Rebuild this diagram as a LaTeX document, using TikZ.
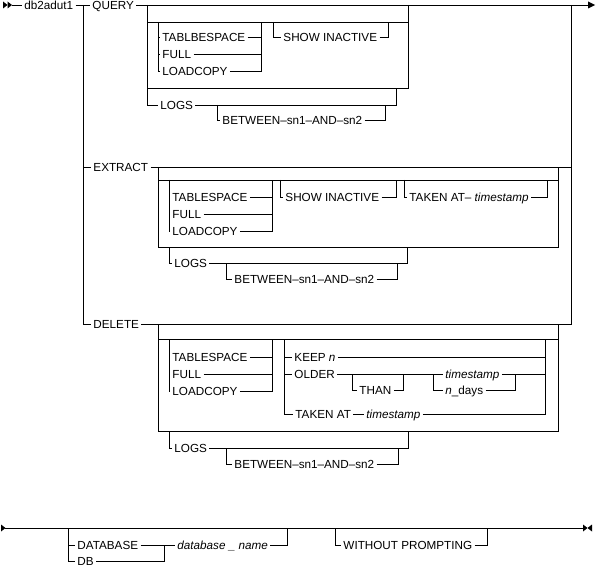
\documentclass[tikz,border=0pt]{standalone}
\usepackage{fontspec}
\setmainfont{Liberation Sans}
\begin{document}
\begin{tikzpicture}[x=1pt,y=-1pt,line width=0.9pt,
  t/.style={anchor=west,inner xsep=2pt,inner ysep=0pt,text height=8.4pt,text depth=0pt,font=\fontsize{11.7}{13}\selectfont},
  tip/.style={fill=black,draw=none}]
\useasboundingbox (0,0) rectangle (596,569);
% ---------- head ----------
\fill[tip] (3,1.5) -- (7.5,5) -- (3,8.5) -- cycle;
\fill[tip] (7.5,1.5) -- (12,5) -- (7.5,8.5) -- cycle;
\node[t] (db) at (22,5) {db2adut1};
\node[t] (qy) at (90,5) {QUERY};
\node[t] (ex) at (91,167) {EXTRACT};
\node[t] (del) at (91,324) {DELETE};
\coordinate (e1) at (588,5);
\draw (12,5) -- (db.west);
\draw (db.east) -- (qy.west);
\draw (qy.east) -- (e1);
\fill[tip] (588,1.5) -- (595,5) -- (588,8.5) -- cycle;
\draw (83,5) -- (83,324) -- (del.west);
\draw (83,167) -- (ex.west);
\draw (571,5) -- (571,324) -- (del.east);
\draw (ex.east) -- (571,167);
% ---------- QUERY ----------
\draw (147,5) -- (147,105);
\draw (147,22) -- (408,22);
\draw (408,5) -- (408,88) -- (147,88);
\node[t] (tb1) at (160,37) {TABLBESPACE};
\node[t] (fu1) at (160,54) {FULL};
\node[t] (lc1) at (160,71) {LOADCOPY};
\draw (158,22) -- (158,71) -- (lc1.west);
\draw (158,37) -- (tb1.west); \draw (158,54) -- (fu1.west);
\draw (tb1.east) -- (261,37); \draw (fu1.east) -- (261,54);
\draw (lc1.east) -- (261,71) -- (261,22);
\node[t] (si1) at (281,37) {SHOW INACTIVE};
\draw (273,22) -- (273,37) -- (si1.west);
\draw (si1.east) -- (388,37) -- (388,22);
\node[t] (lg1) at (158,105) {LOGS};
\draw (147,105) -- (lg1.west);
\draw (lg1.east) -- (396,105) -- (396,88);
\node[t] (bt1) at (220,120) {BETWEEN\textendash sn1\textendash AND\textendash sn2};
\draw (217,105) -- (217,120) -- (bt1.west);
\draw (bt1.east) -- (385,120) -- (385,105);
% ---------- EXTRACT ----------
\draw (158,167) -- (158,247) -- (558,247) -- (558,167);
\draw (158,180) -- (558,180);
\node[t] (tb2) at (170,197) {TABLESPACE};
\node[t] (fu2) at (170,214) {FULL};
\node[t] (lc2) at (170,231) {LOADCOPY};
\draw (169,180) -- (169,231) -- (lc2.west);
\draw (169,197) -- (tb2.west); \draw (169,214) -- (fu2.west);
\draw (tb2.east) -- (272,197); \draw (fu2.east) -- (272,214);
\draw (lc2.east) -- (272,231) -- (272,180);
\node[t] (si2) at (283,197) {SHOW INACTIVE};
\draw (280,180) -- (280,197) -- (si2.west);
\draw (si2.east) -- (396,197) -- (396,180);
\node[t] (ta2) at (407,197) {TAKEN AT\textendash\ \textit{timestamp}};
\draw (404,180) -- (404,197) -- (ta2.west);
\draw (ta2.east) -- (547,197) -- (547,180);
\node[t] (lg2) at (172,263) {LOGS};
\draw (169,247) -- (169,263) -- (lg2.west);
\draw (lg2.east) -- (407,263) -- (407,247);
\node[t] (bt2) at (232,279) {BETWEEN\textendash sn1\textendash AND\textendash sn2};
\draw (226,263) -- (226,279) -- (bt2.west);
\draw (bt2.east) -- (397,279) -- (397,263);
% ---------- DELETE ----------
\draw (158,324) -- (158,431) -- (558,431) -- (558,324);
\draw (158,339) -- (558,339);
\node[t] (tb3) at (170,357) {TABLESPACE};
\node[t] (fu3) at (170,374) {FULL};
\node[t] (lc3) at (170,391) {LOADCOPY};
\draw (169,339) -- (169,391) -- (lc3.west);
\draw (169,357) -- (tb3.west); \draw (169,374) -- (fu3.west);
\draw (tb3.east) -- (272,357); \draw (fu3.east) -- (272,374);
\draw (lc3.east) -- (272,391) -- (272,339);
\node[t] (kp) at (292,357) {KEEP \textit{n}};
\node[t] (od) at (292,374) {OLDER};
\node[t] (ta3) at (293,414) {TAKEN AT};
\node[t] (ts4) at (364,414) {\textit{timestamp}};
\draw (284,339) -- (284,414) -- (ta3.west);
\draw (284,357) -- (kp.west); \draw (284,374) -- (od.west);
\draw (kp.east) -- (545,357);
\draw (ta3.east) -- (ts4.west);
\draw (ts4.east) -- (545,414) -- (545,339);
\node[t] (th) at (357,390) {THAN};
\node[t] (ts3) at (443,374) {\textit{timestamp}};
\node[t] (nd) at (443,390) {\textit{n}\_days};
\draw (od.east) -- (ts3.west);
\draw (352,374) -- (352,390) -- (th.west);
\draw (th.east) -- (403,390) -- (403,374);
\draw (433,374) -- (433,390) -- (nd.west);
\draw (nd.east) -- (515,390) -- (515,374);
\draw (ts3.east) -- (545,374);
\node[t] (lg3) at (172,448) {LOGS};
\draw (169,431) -- (169,448) -- (lg3.west);
\draw (lg3.east) -- (408,448) -- (408,431);
\node[t] (bt3) at (232,464) {BETWEEN\textendash sn1\textendash AND\textendash sn2};
\draw (226,448) -- (226,464) -- (bt3.west);
\draw (bt3.east) -- (398,464) -- (398,448);
% ---------- bottom ----------
\coordinate (b0) at (5,528);
\coordinate (b1) at (583,528);
\fill[tip] (1,524.5) -- (5.5,528) -- (1,531.5) -- cycle;
\draw (b0) -- (b1);
\fill[tip] (583,524.5) -- (587.5,528) -- (583,531.5) -- cycle;
\fill[tip] (592,524.5) -- (587.5,528) -- (592,531.5) -- cycle;
\node[t] (dbase) at (75,545) {DATABASE};
\node[t] (dbs) at (75,561) {DB};
\node[t] (dbn) at (175,545) {\textit{database \_ name}};
\draw (68,528) -- (68,561) -- (dbs.west);
\draw (68,545) -- (dbase.west);
\draw (dbase.east) -- (dbn.west);
\draw (dbs.east) -- (164,561) -- (164,545);
\draw (dbn.east) -- (287,545) -- (287,528);
\node[t] (wp) at (341,545) {WITHOUT PROMPTING};
\draw (335,528) -- (335,545) -- (wp.west);
\draw (wp.east) -- (487,545) -- (487,528);
\end{tikzpicture}
\end{document}
